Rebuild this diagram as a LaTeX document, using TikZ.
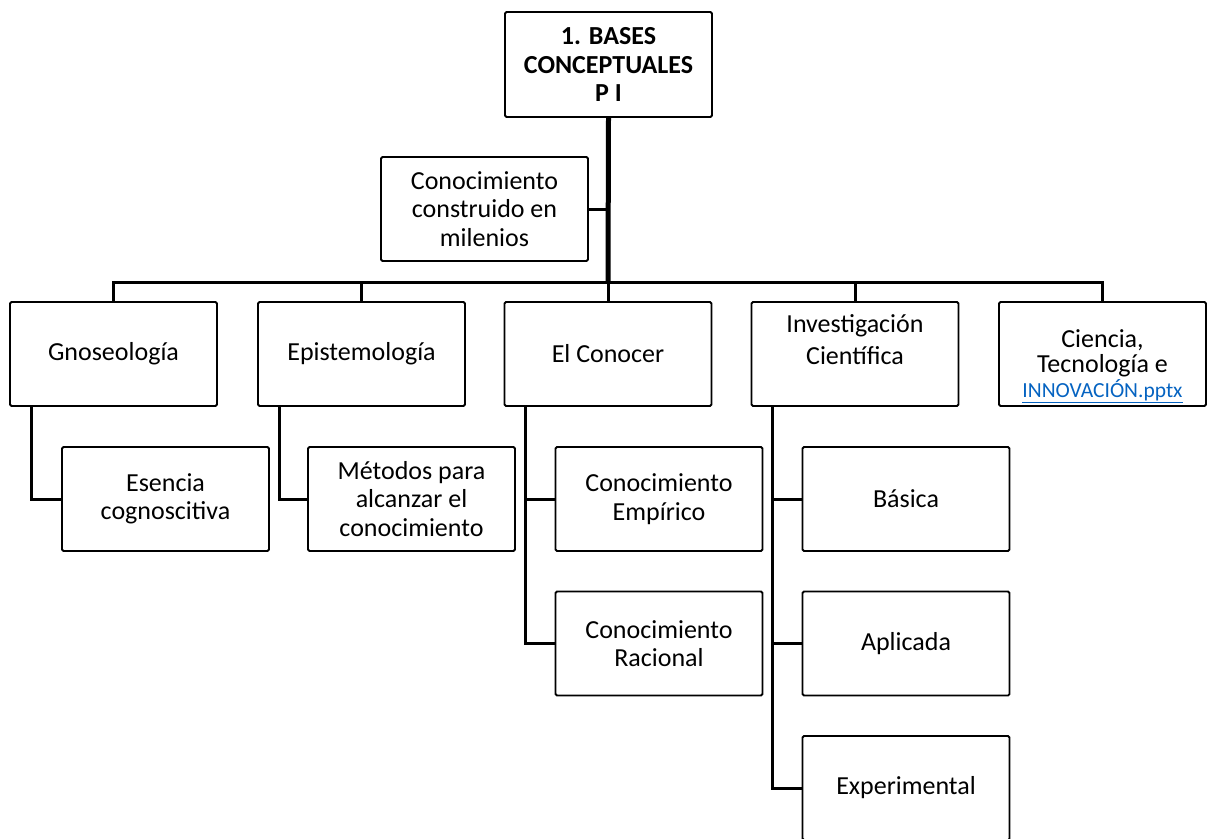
\documentclass[tikz,border=0pt]{standalone}
\usepackage{fontspec}
\setmainfont{Carlito}
\usetikzlibrary{calc}
\definecolor{linkblue}{HTML}{0563C1}
\begin{document}
\begin{tikzpicture}[x=1pt,y=-1pt,
  box/.style={draw=black, line width=1.8pt, rounded corners=1.5pt,
    minimum width=207pt, minimum height=104pt, inner sep=0pt,
    align=center, font=\fontsize{26}{28.5}\selectfont},
  txt/.style={inner sep=0pt, align=center},
  link/.style={line width=3pt, line cap=rect},
  trunk/.style={line width=5pt}]
\useasboundingbox (0,0) rectangle (1207,838);

% root and side note
\node[box, minimum height=105pt, font=\bfseries\fontsize{26}{28.5}\selectfont]
  (root) at (608.5,64.5) {1. BASES\\CONCEPTUALES\\P I};
\node[box] (note) at (484.5,209) {Conocimiento\\construido en\\milenios};

% first level
\node[box] (gno) at (113.5,354) {Gnoseología};
\node[box] (epi) at (361.5,354) {Epistemología};
\node[box] (con) at (608,354) {El Conocer};
\node[box] (inv) at (855,354) {};
\node[txt, font=\fontsize{26}{32}\selectfont] (invtext) at (855,339.5)
  {Investigación\\Científica};
\node[box] (cie) at (1102.5,354) {};
\node[txt, font=\fontsize{26}{25.5}\selectfont] (cietext) at (1102.5,366)
  {Ciencia,\\Tecnología e\\[-1pt]{\fontsize{21.5}{24}\selectfont\color{linkblue}\underline{INNOVACIÓN.pptx}}};

% second level
\node[box] (ese) at (165.5,499) {Esencia\\cognoscitiva};
\node[box] (met) at (411.5,499) {Métodos para\\alcanzar el\\conocimiento};
\node[box] (emp) at (659,499) {Conocimiento\\Empírico};
\node[box] (rac) at (659,643.5) {Conocimiento\\Racional};
\node[box] (bas) at (906,499) {Básica};
\node[box] (apl) at (906,643.5) {Aplicada};
\node[box] (exp) at (906,788) {Experimental};

% main trunk and bus
\coordinate (hub) at (608,282);
\coordinate (busL) at (113.5,282);
\coordinate (busR) at (1102.5,282);
\draw[trunk] (root.south) -- (hub);
\draw[link] (note.east) -- (note.east -| hub);
\draw[link] (busL) -- (busR);
\draw[link] (busL) -- (gno.north);
\draw[link] (epi.north |- hub) -- (epi.north);
\draw[link] (hub) -- (con.north);
\draw[link] (inv.north |- hub) -- (inv.north);
\draw[link] (busR) -- (cie.north);

% branches to second level
\draw[link] ($(gno.south west)+(22,0)$) |- (ese.west);
\draw[link] ($(epi.south west)+(22,0)$) |- (met.west);
\draw[link] ($(con.south west)+(22,0)$) |- (emp.west);
\draw[link] ($(con.south west)+(22,0)$) |- (rac.west);
\draw[link] ($(inv.south west)+(22,0)$) |- (bas.west);
\draw[link] ($(inv.south west)+(22,0)$) |- (apl.west);
\draw[link] ($(inv.south west)+(22,0)$) |- (exp.west);
\end{tikzpicture}
\end{document}
